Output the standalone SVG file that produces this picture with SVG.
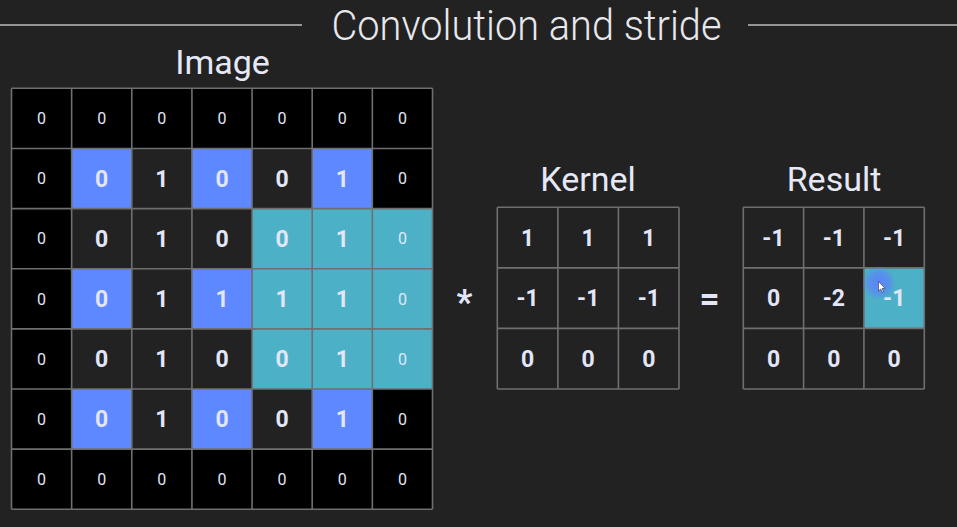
<svg xmlns="http://www.w3.org/2000/svg" width="957" height="527" viewBox="0 0 957 527">
<defs>
<style>
.bg{fill:#222222}
.k{fill:#000000}
.d{fill:#222222}
.b{fill:#5d88ff}
.t{fill:#4cb1c6}
.grid{stroke:#6f6f6f;stroke-width:1.6;fill:none}
.s{font-family:Roboto,"Liberation Sans",sans-serif;font-size:16px;fill:#e2e6f8;text-anchor:middle}
.n{font-family:Roboto,"Liberation Sans",sans-serif;font-size:23px;font-weight:bold;fill:#e2e6f8;text-anchor:middle}
.h{font-family:Roboto,"Liberation Sans",sans-serif;font-size:34px;fill:#e6e8f6;text-anchor:middle}
.title{font-family:Roboto,"Liberation Sans",sans-serif;font-weight:300;font-size:42px;fill:#e8e8ec;text-anchor:middle}
.op{font-family:Roboto,"Liberation Sans",sans-serif;font-size:35px;font-weight:bold;fill:#e2e6f8;text-anchor:middle}
</style>
<radialGradient id="glow">
<stop offset="0" stop-color="#5d7fff" stop-opacity="0.95"/>
<stop offset="0.6" stop-color="#5d7fff" stop-opacity="0.6"/>
<stop offset="1" stop-color="#5d7fff" stop-opacity="0"/>
</radialGradient>
</defs>
<rect class="bg" x="0" y="0" width="957" height="527"/>

<g id="title">
<line x1="0" y1="25" x2="302" y2="25" stroke="#bdbdbd" stroke-width="1.5"/>
<line x1="748" y1="25" x2="957" y2="25" stroke="#bdbdbd" stroke-width="1.5"/>
<text class="title" x="526.5" y="40" textLength="390" lengthAdjust="spacingAndGlyphs">Convolution and stride</text>
</g>

<g id="image">
<text class="h" x="222.5" y="73.5">Image</text>
<g id="image-cells">
<rect class="k" x="11.5" y="88.3" width="421" height="60.14"/>
<rect class="k" x="11.5" y="148.44" width="60.14" height="60.14"/>
<rect class="b" x="71.64" y="148.44" width="60.14" height="60.14"/>
<rect class="d" x="131.78" y="148.44" width="60.14" height="60.14"/>
<rect class="b" x="191.92" y="148.44" width="60.14" height="60.14"/>
<rect class="d" x="252.06" y="148.44" width="60.14" height="60.14"/>
<rect class="b" x="312.2" y="148.44" width="60.14" height="60.14"/>
<rect class="k" x="372.34" y="148.44" width="60.14" height="60.14"/>
<rect class="k" x="11.5" y="208.58" width="60.14" height="60.14"/>
<rect class="d" x="71.64" y="208.58" width="180.42" height="60.14"/>
<rect class="k" x="11.5" y="268.72" width="60.14" height="60.14"/>
<rect class="b" x="71.64" y="268.72" width="60.14" height="60.14"/>
<rect class="d" x="131.78" y="268.72" width="60.14" height="60.14"/>
<rect class="b" x="191.92" y="268.72" width="60.14" height="60.14"/>
<rect class="k" x="11.5" y="328.86" width="60.14" height="60.14"/>
<rect class="d" x="71.64" y="328.86" width="180.42" height="60.14"/>
<rect class="t" x="252.06" y="208.58" width="180.42" height="180.42"/>
<rect class="k" x="11.5" y="389" width="60.14" height="60.14"/>
<rect class="b" x="71.64" y="389" width="60.14" height="60.14"/>
<rect class="d" x="131.78" y="389" width="60.14" height="60.14"/>
<rect class="b" x="191.92" y="389" width="60.14" height="60.14"/>
<rect class="d" x="252.06" y="389" width="60.14" height="60.14"/>
<rect class="b" x="312.2" y="389" width="60.14" height="60.14"/>
<rect class="k" x="372.34" y="389" width="60.14" height="60.14"/>
<rect class="k" x="11.5" y="449.14" width="421" height="60.14"/>
</g>
<path class="grid" d="M11.5 88.3H432.5M11.5 148.44H432.5M11.5 208.58H432.5M11.5 268.72H432.5M11.5 328.86H432.5M11.5 389H432.5M11.5 449.14H432.5M11.5 509.3H432.5M11.5 88.3V509.3M71.64 88.3V509.3M131.78 88.3V509.3M191.92 88.3V509.3M252.06 88.3V509.3M312.2 88.3V509.3M372.34 88.3V509.3M432.5 88.3V509.3"/>
<g id="image-values">
<text class="s" x="41.6" y="124.1">0</text><text class="s" x="101.7" y="124.1">0</text><text class="s" x="161.8" y="124.1">0</text><text class="s" x="222" y="124.1">0</text><text class="s" x="282.1" y="124.1">0</text><text class="s" x="342.3" y="124.1">0</text><text class="s" x="402.4" y="124.1">0</text>
<text class="s" x="41.6" y="184.2">0</text><text class="n" x="101.7" y="186.7">0</text><text class="n" x="161.8" y="186.7">1</text><text class="n" x="222" y="186.7">0</text><text class="n" x="282.1" y="186.7">0</text><text class="n" x="342.3" y="186.7">1</text><text class="s" x="402.4" y="184.2">0</text>
<text class="s" x="41.6" y="244.3">0</text><text class="n" x="101.7" y="246.8">0</text><text class="n" x="161.8" y="246.8">1</text><text class="n" x="222" y="246.8">0</text><text class="n" x="282.1" y="246.8">0</text><text class="n" x="342.3" y="246.8">1</text><text class="s" x="402.4" y="244.3">0</text>
<text class="s" x="41.6" y="304.5">0</text><text class="n" x="101.7" y="307">0</text><text class="n" x="161.8" y="307">1</text><text class="n" x="222" y="307">1</text><text class="n" x="282.1" y="307">1</text><text class="n" x="342.3" y="307">1</text><text class="s" x="402.4" y="304.5">0</text>
<text class="s" x="41.6" y="364.6">0</text><text class="n" x="101.7" y="367.1">0</text><text class="n" x="161.8" y="367.1">1</text><text class="n" x="222" y="367.1">0</text><text class="n" x="282.1" y="367.1">0</text><text class="n" x="342.3" y="367.1">1</text><text class="s" x="402.4" y="364.6">0</text>
<text class="s" x="41.6" y="424.8">0</text><text class="n" x="101.7" y="427.3">0</text><text class="n" x="161.8" y="427.3">1</text><text class="n" x="222" y="427.3">0</text><text class="n" x="282.1" y="427.3">0</text><text class="n" x="342.3" y="427.3">1</text><text class="s" x="402.4" y="424.8">0</text>
<text class="s" x="41.6" y="484.9">0</text><text class="s" x="101.7" y="484.9">0</text><text class="s" x="161.8" y="484.9">0</text><text class="s" x="222" y="484.9">0</text><text class="s" x="282.1" y="484.9">0</text><text class="s" x="342.3" y="484.9">0</text><text class="s" x="402.4" y="484.9">0</text>
</g>
</g>

<g id="times"><text class="op" x="464.5" y="314">*</text></g>

<g id="kernel">
<text class="h" x="588" y="190.7">Kernel</text>
<rect class="d" x="497.3" y="207.3" width="181.7" height="181.7"/>
<path class="grid" d="M497.3 207.3H679M497.3 267.9H679M497.3 328.4H679M497.3 389H679M497.3 207.3V389M557.9 207.3V389M618.4 207.3V389M679 207.3V389"/>
<text class="n" x="527.6" y="245.8">1</text><text class="n" x="588.2" y="245.8">1</text><text class="n" x="648.8" y="245.8">1</text>
<text class="n" x="527.6" y="306.4">-1</text><text class="n" x="588.2" y="306.4">-1</text><text class="n" x="648.8" y="306.4">-1</text>
<text class="n" x="527.6" y="367">0</text><text class="n" x="588.2" y="367">0</text><text class="n" x="648.8" y="367">0</text>
</g>

<g id="equals"><text class="op" x="709.5" y="311">=</text></g>

<g id="result">
<text class="h" x="834" y="190.7">Result</text>
<rect class="d" x="743.3" y="207.3" width="181" height="181.7"/>
<rect class="t" x="863.9" y="267.9" width="60.4" height="60.5"/>
<path class="grid" d="M743.3 207.3H924.3M743.3 267.9H924.3M743.3 328.4H924.3M743.3 389H924.3M743.3 207.3V389M803.6 207.3V389M863.9 207.3V389M924.3 207.3V389"/>
<text class="n" x="773.5" y="245.8">-1</text><text class="n" x="833.8" y="245.8">-1</text><text class="n" x="894.2" y="245.8">-1</text>
<text class="n" x="773.5" y="306.4">0</text><text class="n" x="833.8" y="306.4">-2</text><text class="n" x="894.2" y="306.4">-1</text>
<text class="n" x="773.5" y="367">0</text><text class="n" x="833.8" y="367">0</text><text class="n" x="894.2" y="367">0</text>
</g>

<g id="cursor">
<circle cx="879" cy="283" r="17" fill="url(#glow)"/>
<path d="M878.5 281.5 L878.5 291 L880.7 289 L882.2 292.3 L883.5 291.7 L882 288.5 L885 288.3 Z" fill="#ffffff" stroke="#333" stroke-width="0.6"/>
</g>
</svg>
